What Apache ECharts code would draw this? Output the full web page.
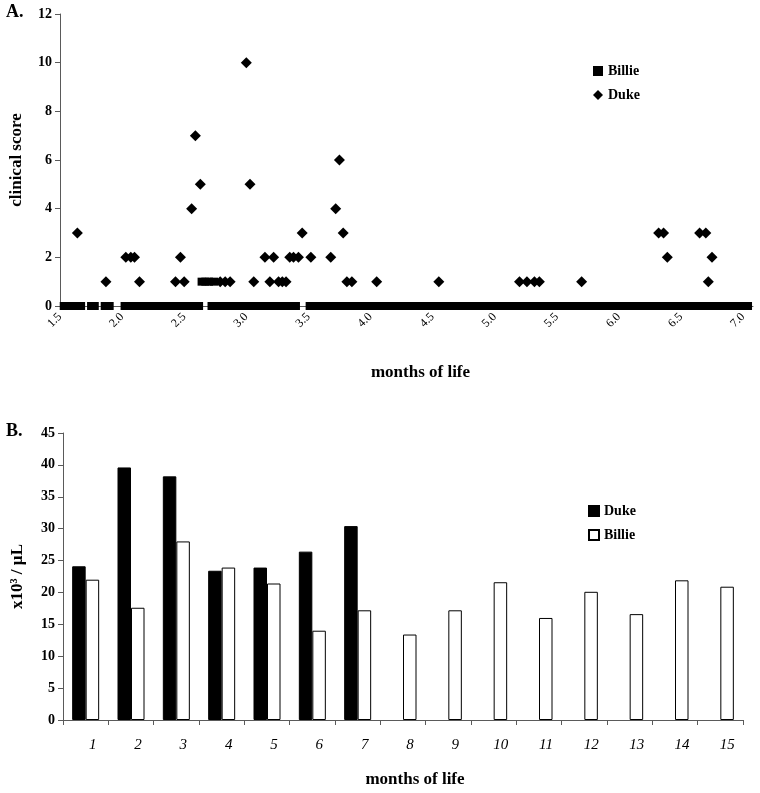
<!DOCTYPE html>
<html>
<head>
<meta charset="utf-8">
<script src="https://cdn.jsdelivr.net/npm/echarts@6/dist/echarts.min.js"></script>
<style>
html,body{margin:0;padding:0;background:#fff;}
#c{width:760px;height:793px;}
</style>
</head>
<body>
<div id="c"></div>
<script>
// ---------- Panel A: clinical score vs months of life ----------
const billieZeroMonths = [
  1.53, 1.56, 1.60, 1.63, 1.67,
  1.75, 1.78,
  1.86, 1.90,
  2.02, 2.05, 2.09, 2.12, 2.15, 2.19, 2.22, 2.26, 2.29, 2.32, 2.36, 2.39, 2.43, 2.46, 2.49, 2.53, 2.56, 2.60, 2.62,
  2.72, 2.75, 2.79, 2.82, 2.85, 2.89, 2.92, 2.96, 2.99, 3.02, 3.06, 3.09, 3.13, 3.16, 3.19, 3.23, 3.26, 3.30, 3.33, 3.36, 3.40,
  3.51, 3.54, 3.58, 3.61, 3.65, 3.68, 3.71, 3.75, 3.78, 3.82, 3.85, 3.88, 3.92, 3.95, 3.99, 4.02, 4.05, 4.09, 4.12, 4.16,
  4.19, 4.22, 4.26, 4.29, 4.33, 4.36, 4.39, 4.43, 4.46, 4.50, 4.53, 4.56, 4.60, 4.63, 4.67, 4.70, 4.73, 4.77, 4.80, 4.84,
  4.87, 4.90, 4.94, 4.97, 5.01, 5.04, 5.07, 5.11, 5.14, 5.18, 5.21, 5.24, 5.28, 5.31, 5.35, 5.38, 5.41, 5.45, 5.48, 5.52,
  5.55, 5.58, 5.62, 5.65, 5.69, 5.72, 5.75, 5.79, 5.82, 5.86, 5.89, 5.92, 5.96, 5.99, 6.03, 6.06, 6.09, 6.13, 6.16, 6.20,
  6.23, 6.26, 6.30, 6.33, 6.37, 6.40, 6.43, 6.47, 6.50, 6.54, 6.57, 6.60, 6.64, 6.67, 6.71, 6.74, 6.77, 6.81, 6.84, 6.88,
  6.91, 6.94, 6.98, 7.01, 7.04
];
const billieOneMonths = [2.64, 2.67, 2.70, 2.74];

const dukeMonths = [
  1.64, 1.87, 2.03, 2.07, 2.10, 2.14, 2.43, 2.47, 2.50, 2.56, 2.59, 2.63,
  2.79, 2.83, 2.87, 3.00, 3.03, 3.06, 3.15, 3.19, 3.22, 3.26, 3.29, 3.32,
  3.35, 3.38, 3.42, 3.45, 3.52, 3.68, 3.72, 3.75, 3.78, 3.81, 3.85, 4.05,
  4.55, 5.20, 5.26, 5.32, 5.36, 5.70, 6.32, 6.36, 6.39, 6.65, 6.70, 6.72, 6.75
];
const dukeScores = [
  3, 1, 2, 2, 2, 1, 1, 2, 1, 4, 7, 5,
  1, 1, 1, 10, 5, 1, 2, 1, 2, 1, 1, 1,
  2, 2, 2, 3, 2, 2, 4, 6, 3, 1, 1, 1,
  1, 1, 1, 1, 1, 1, 3, 3, 2, 3, 3, 1, 2
];

// ---------- Panel B: x10^3/µL by month of life ----------
const monthCategories = ['1','2','3','4','5','6','7','8','9','10','11','12','13','14','15'];
const dukeCounts = [24.1, 39.6, 38.2, 23.4, 23.9, 26.4, 30.4, null, null, null, null, null, null, null, null];
const billieCounts = [22.0, 17.6, 28.0, 23.9, 21.4, 14.0, 17.2, 13.4, 17.2, 21.6, 16.0, 20.1, 16.6, 21.9, 20.9];

const serif = '"Liberation Serif", "DejaVu Serif", serif';

const billieScatter = billieZeroMonths.map(m => [m, 0]).concat(billieOneMonths.map(m => [m, 1]));
const dukeScatter = dukeMonths.map((m, i) => [m, dukeScores[i]]);

const chart = echarts.init(document.getElementById('c'), null, {renderer: 'canvas'});

const axisLineStyle = {color: '#5a5a5a', width: 1};

chart.setOption({
  animation: false,
  backgroundColor: '#ffffff',
  title: [
    {text: 'A.', left: 6, top: 3, padding: 0, textStyle: {fontFamily: serif, fontWeight: 'bold', fontSize: 18, color: '#000'}},
    {text: 'B.', left: 6, top: 422, padding: 0, textStyle: {fontFamily: serif, fontWeight: 'bold', fontSize: 18, color: '#000'}}
  ],
  legend: [
    {
      orient: 'vertical', left: 593, top: 64, padding: 0, itemGap: 10,
      itemWidth: 10, itemHeight: 10,
      textStyle: {fontFamily: serif, fontWeight: 'bold', fontSize: 14, color: '#000'},
      data: [{name: 'Billie', icon: 'rect'}, {name: 'Duke', icon: 'diamond'}]
    },
    {
      orient: 'vertical', left: 588, top: 504, padding: 0, itemGap: 10,
      itemWidth: 10, itemHeight: 10,
      textStyle: {fontFamily: serif, fontWeight: 'bold', fontSize: 14, color: '#000'},
      data: [{name: 'Duke ', icon: 'rect'}, {name: 'Billie ', icon: 'rect'}]
    }
  ],
  grid: [
    {left: 58, top: 14, width: 695, height: 292},
    {left: 63, top: 433, width: 680, height: 287}
  ],
  xAxis: [
    {
      gridIndex: 0, type: 'value', min: 1.5, max: 7.08, interval: 0.5,
      splitLine: {show: false},
      axisLine: {show: true, lineStyle: axisLineStyle, onZero: false},
      axisTick: {show: true, length: 4, lineStyle: axisLineStyle},
      axisLabel: {
        rotate: 45, margin: 9, fontFamily: serif, fontSize: 12, color: '#000',
        showMaxLabel: false,
        formatter: v => v.toFixed(1)
      },
      name: 'months of life', nameLocation: 'middle', nameGap: 58,
      nameTextStyle: {fontFamily: serif, fontWeight: 'bold', fontSize: 17, color: '#000', padding: [0, 0, 0, 28]}
    },
    {
      gridIndex: 1, type: 'category', data: monthCategories, boundaryGap: true,
      axisLine: {show: true, lineStyle: axisLineStyle},
      axisTick: {show: true, length: 5, lineStyle: axisLineStyle},
      axisLabel: {margin: 18, fontFamily: serif, fontStyle: 'italic', fontSize: 15, color: '#000', padding: [0, 0, 0, 14]},
      name: 'months of life', nameLocation: 'middle', nameGap: 51,
      nameTextStyle: {fontFamily: serif, fontWeight: 'bold', fontSize: 17, color: '#000', padding: [0, 0, 0, 24]}
    }
  ],
  yAxis: [
    {
      gridIndex: 0, type: 'value', min: 0, max: 12, interval: 2,
      splitLine: {show: false},
      axisLine: {show: true, lineStyle: axisLineStyle},
      axisTick: {show: true, length: 5, lineStyle: axisLineStyle},
      axisLabel: {margin: 8, fontFamily: serif, fontWeight: 'bold', fontSize: 14, color: '#000'},
      name: 'clinical score', nameLocation: 'middle', nameGap: 35,
      nameTextStyle: {fontFamily: serif, fontWeight: 'bold', fontSize: 17, color: '#000'}
    },
    {
      gridIndex: 1, type: 'value', min: 0, max: 45, interval: 5,
      splitLine: {show: false},
      axisLine: {show: true, lineStyle: axisLineStyle},
      axisTick: {show: true, length: 5, lineStyle: axisLineStyle},
      axisLabel: {margin: 8, fontFamily: serif, fontWeight: 'bold', fontSize: 14, color: '#000'},
      name: 'x10³ / µL', nameLocation: 'middle', nameGap: 37,
      nameTextStyle: {fontFamily: serif, fontWeight: 'bold', fontSize: 17, color: '#000'}
    }
  ],
  series: [
    {
      name: 'Billie', type: 'scatter', xAxisIndex: 0, yAxisIndex: 0,
      symbol: 'rect', symbolSize: 8,
      itemStyle: {color: '#000', opacity: 1},
      data: billieScatter
    },
    {
      name: 'Duke', type: 'scatter', xAxisIndex: 0, yAxisIndex: 0,
      symbol: 'diamond', symbolSize: 11,
      itemStyle: {color: '#000', opacity: 1},
      data: dukeScatter
    },
    {
      name: 'Duke ', type: 'bar', xAxisIndex: 1, yAxisIndex: 1,
      barWidth: 13.5, barGap: '0%',
      itemStyle: {color: '#000', borderColor: '#000', borderWidth: 1},
      data: dukeCounts
    },
    {
      name: 'Billie ', type: 'bar', xAxisIndex: 1, yAxisIndex: 1,
      barWidth: 13.5, barGap: '0%',
      itemStyle: {color: '#fff', borderColor: '#000', borderWidth: 1},
      data: billieCounts
    }
  ]
});
</script>
</body>
</html>
